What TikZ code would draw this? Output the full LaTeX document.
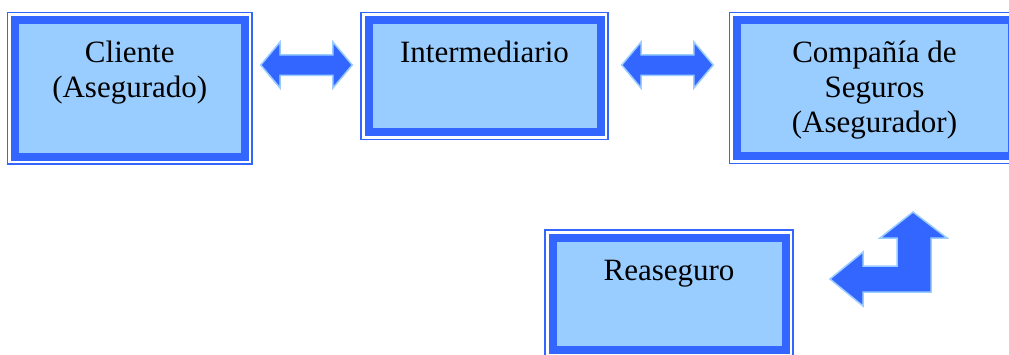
\documentclass[tikz,border=0pt]{standalone}
\usepackage{fontspec}
\setmainfont{Liberation Serif}
\usepackage{tikz}
\usetikzlibrary{shapes.arrows}
\usepackage{xcolor}
\definecolor{boxblue}{HTML}{3366FF}
\definecolor{boxfill}{HTML}{99CCFF}
\tikzset{
  box/.style={draw=boxblue, fill=boxfill, line width=8pt, inner sep=0pt},
  frame/.style={draw=boxblue, line width=1.5pt},
  boxtext/.style={anchor=base, align=center, yshift=-46.5pt, inner sep=0pt, font=\fontsize{31}{35}\selectfont},
  dblarrow/.style={shape=double arrow, fill=boxblue, draw=boxfill, line width=1.5pt, inner xsep=0pt, inner ysep=9.5pt, double arrow head extend=12.75pt, double arrow tip angle=100, minimum height=91.5pt, minimum width=0pt},
  bentarrow/.style={fill=boxblue, draw=boxfill, line width=1.5pt, line join=miter}
}

\begin{document}
\begin{tikzpicture}[x=1pt, y=-1pt]
  \clip (0,0) rectangle (1009,354);
  \fill[white] (0,0) rectangle (1009,354);
  \node[box, minimum width=229.5pt, minimum height=136.5pt, label={[boxtext, yshift=-35pt]north:{Cliente\\(Asegurado)}}] (cli) at (129.75,88.25) {};
  \node[box, minimum width=232pt, minimum height=112pt, label={[boxtext]north:{Intermediario}}] (int) at (484.5,76) {};
  \node[box, minimum width=275pt, minimum height=136pt, label={[boxtext, yshift=-70pt]north:{Compañía de\\Seguros\\(Asegurador)}}] (cia) at (874.5,88) {};
  \node[box, minimum width=233pt, minimum height=112.5pt, label={[boxtext]north:{Reaseguro}}] (rea) at (669,293.75) {};
  \foreach \n in {cli,int,cia,rea}
    \draw[frame] ([shift={(-3.5,-3.5)}]\n.north west) rectangle ([shift={(3.5,3.5)}]\n.south east);
  \node[dblarrow] (a1) at (306.5,65) {};
  \node[dblarrow] (a2) at (667.5,65) {};
  \draw[bentarrow] (830,279) -- (863,252) -- (863,266) -- (897,266) -- (897,238) -- (880,238)
    -- (913,212) -- (947,238) -- (931,238) -- (931,292) -- (863,292) -- (863,306) -- cycle;
\end{tikzpicture}
\end{document}
